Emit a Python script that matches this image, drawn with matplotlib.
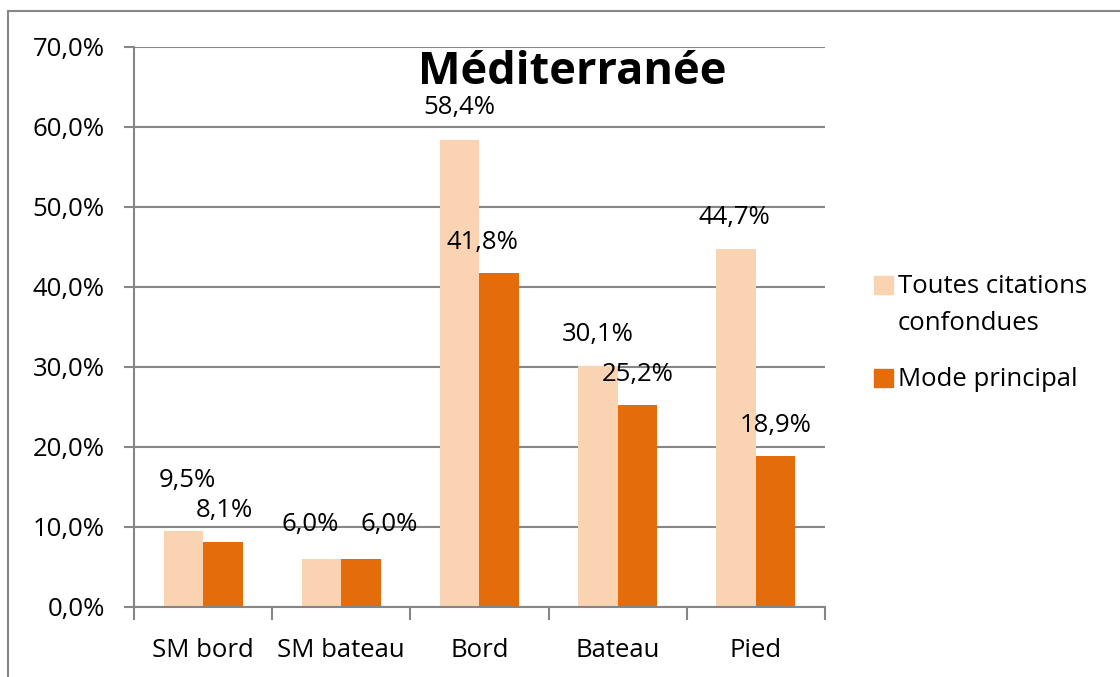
import numpy as np
import matplotlib.pyplot as plt
from matplotlib.patches import Rectangle
from matplotlib.ticker import FixedLocator, NullFormatter

plt.rcParams['font.family'] = ['Open Sans', 'DejaVu Sans']

categories = ["SM bord", "SM bateau", "Bord", "Bateau", "Pied"]
toutes = [9.5, 6.0, 58.4, 30.1, 44.7]
principal = [8.1, 6.0, 41.8, 25.2, 18.9]
series_names = ["Toutes citations\nconfondues", "Mode principal"]

light = "#FAD3B2"
dark = "#E46C0A"
grey = "#868686"
fs = 18.5

fig = plt.figure(figsize=(11.2, 6.77), dpi=100)
ax = fig.add_axes([0.1196, 0.1034, 0.617, 0.8272])

x = np.arange(len(categories))
w = 0.286
b1 = ax.bar(x - w / 2, toutes, w, color=light)
b2 = ax.bar(x + w / 2, principal, w, color=dark)

def fmt(v):
    return ("%.1f%%" % v).replace(".", ",")

# small nudges so labels do not collide (as in the original chart)
dx1 = [3, -8, 0, 0, -1]
dy1 = [36, 25, 23, 23, 23]
dx2 = [1, 20, -12, 0, 0]
dy2 = [23, 25, 22, 22, 22]
for i, v in enumerate(toutes):
    ax.annotate(fmt(v), (x[i] - w / 2, v), xytext=(dx1[i], dy1[i]), textcoords="offset points",
                ha="center", va="center", fontsize=fs)
for i, v in enumerate(principal):
    ax.annotate(fmt(v), (x[i] + w / 2, v), xytext=(dx2[i], dy2[i]), textcoords="offset points",
                ha="center", va="center", fontsize=fs)

ax.set_xlim(-0.5, len(categories) - 0.5)
ax.set_ylim(0, 70)
yt = np.arange(0, 71, 10)
ax.set_yticks(yt)
ax.set_yticklabels([fmt(t) for t in yt], fontsize=fs)
ax.yaxis.grid(True, color=grey, lw=1.5)
ax.set_axisbelow(True)

ax.set_xticks(x)
ax.set_xticklabels(categories, fontsize=fs)
ax.tick_params(axis="x", which="major", length=0, pad=22)
ax.xaxis.set_minor_locator(FixedLocator(np.arange(-0.5, len(categories), 1)))
ax.xaxis.set_minor_formatter(NullFormatter())
ax.tick_params(axis="x", which="minor", length=9, width=1.5, color=grey)
ax.tick_params(axis="y", length=7, width=1.5, color=grey, pad=14)

for s in ["top", "right"]:
    ax.spines[s].set_visible(False)
for s in ["left", "bottom"]:
    ax.spines[s].set_color(grey)
    ax.spines[s].set_linewidth(1.5)

fig.text(572 / 1120, 1 - 72 / 677, "Méditerranée", ha="center", va="center",
         fontsize=32.5, fontweight="bold")

# legend drawn by hand: square aligned with the first line of each label
W, H = 1120, 677
for col, name, ytop in [(light, series_names[0], 276), (dark, series_names[1], 369)]:
    fig.patches.append(Rectangle((874 / W, 1 - (ytop + 18) / H), 19 / W, 18 / H,
                                 transform=fig.transFigure, color=col))
    fig.text(898 / W, 1 - (ytop - 2) / H, name, ha="left", va="top", fontsize=fs,
             linespacing=1.62)

fig.patches.append(Rectangle((8 / W, -0.1), 1.2, 1 - 11 / H + 0.1,
                             transform=fig.transFigure, fill=False,
                             edgecolor=grey, lw=1.5))

fig.savefig("out.png", dpi=100)
